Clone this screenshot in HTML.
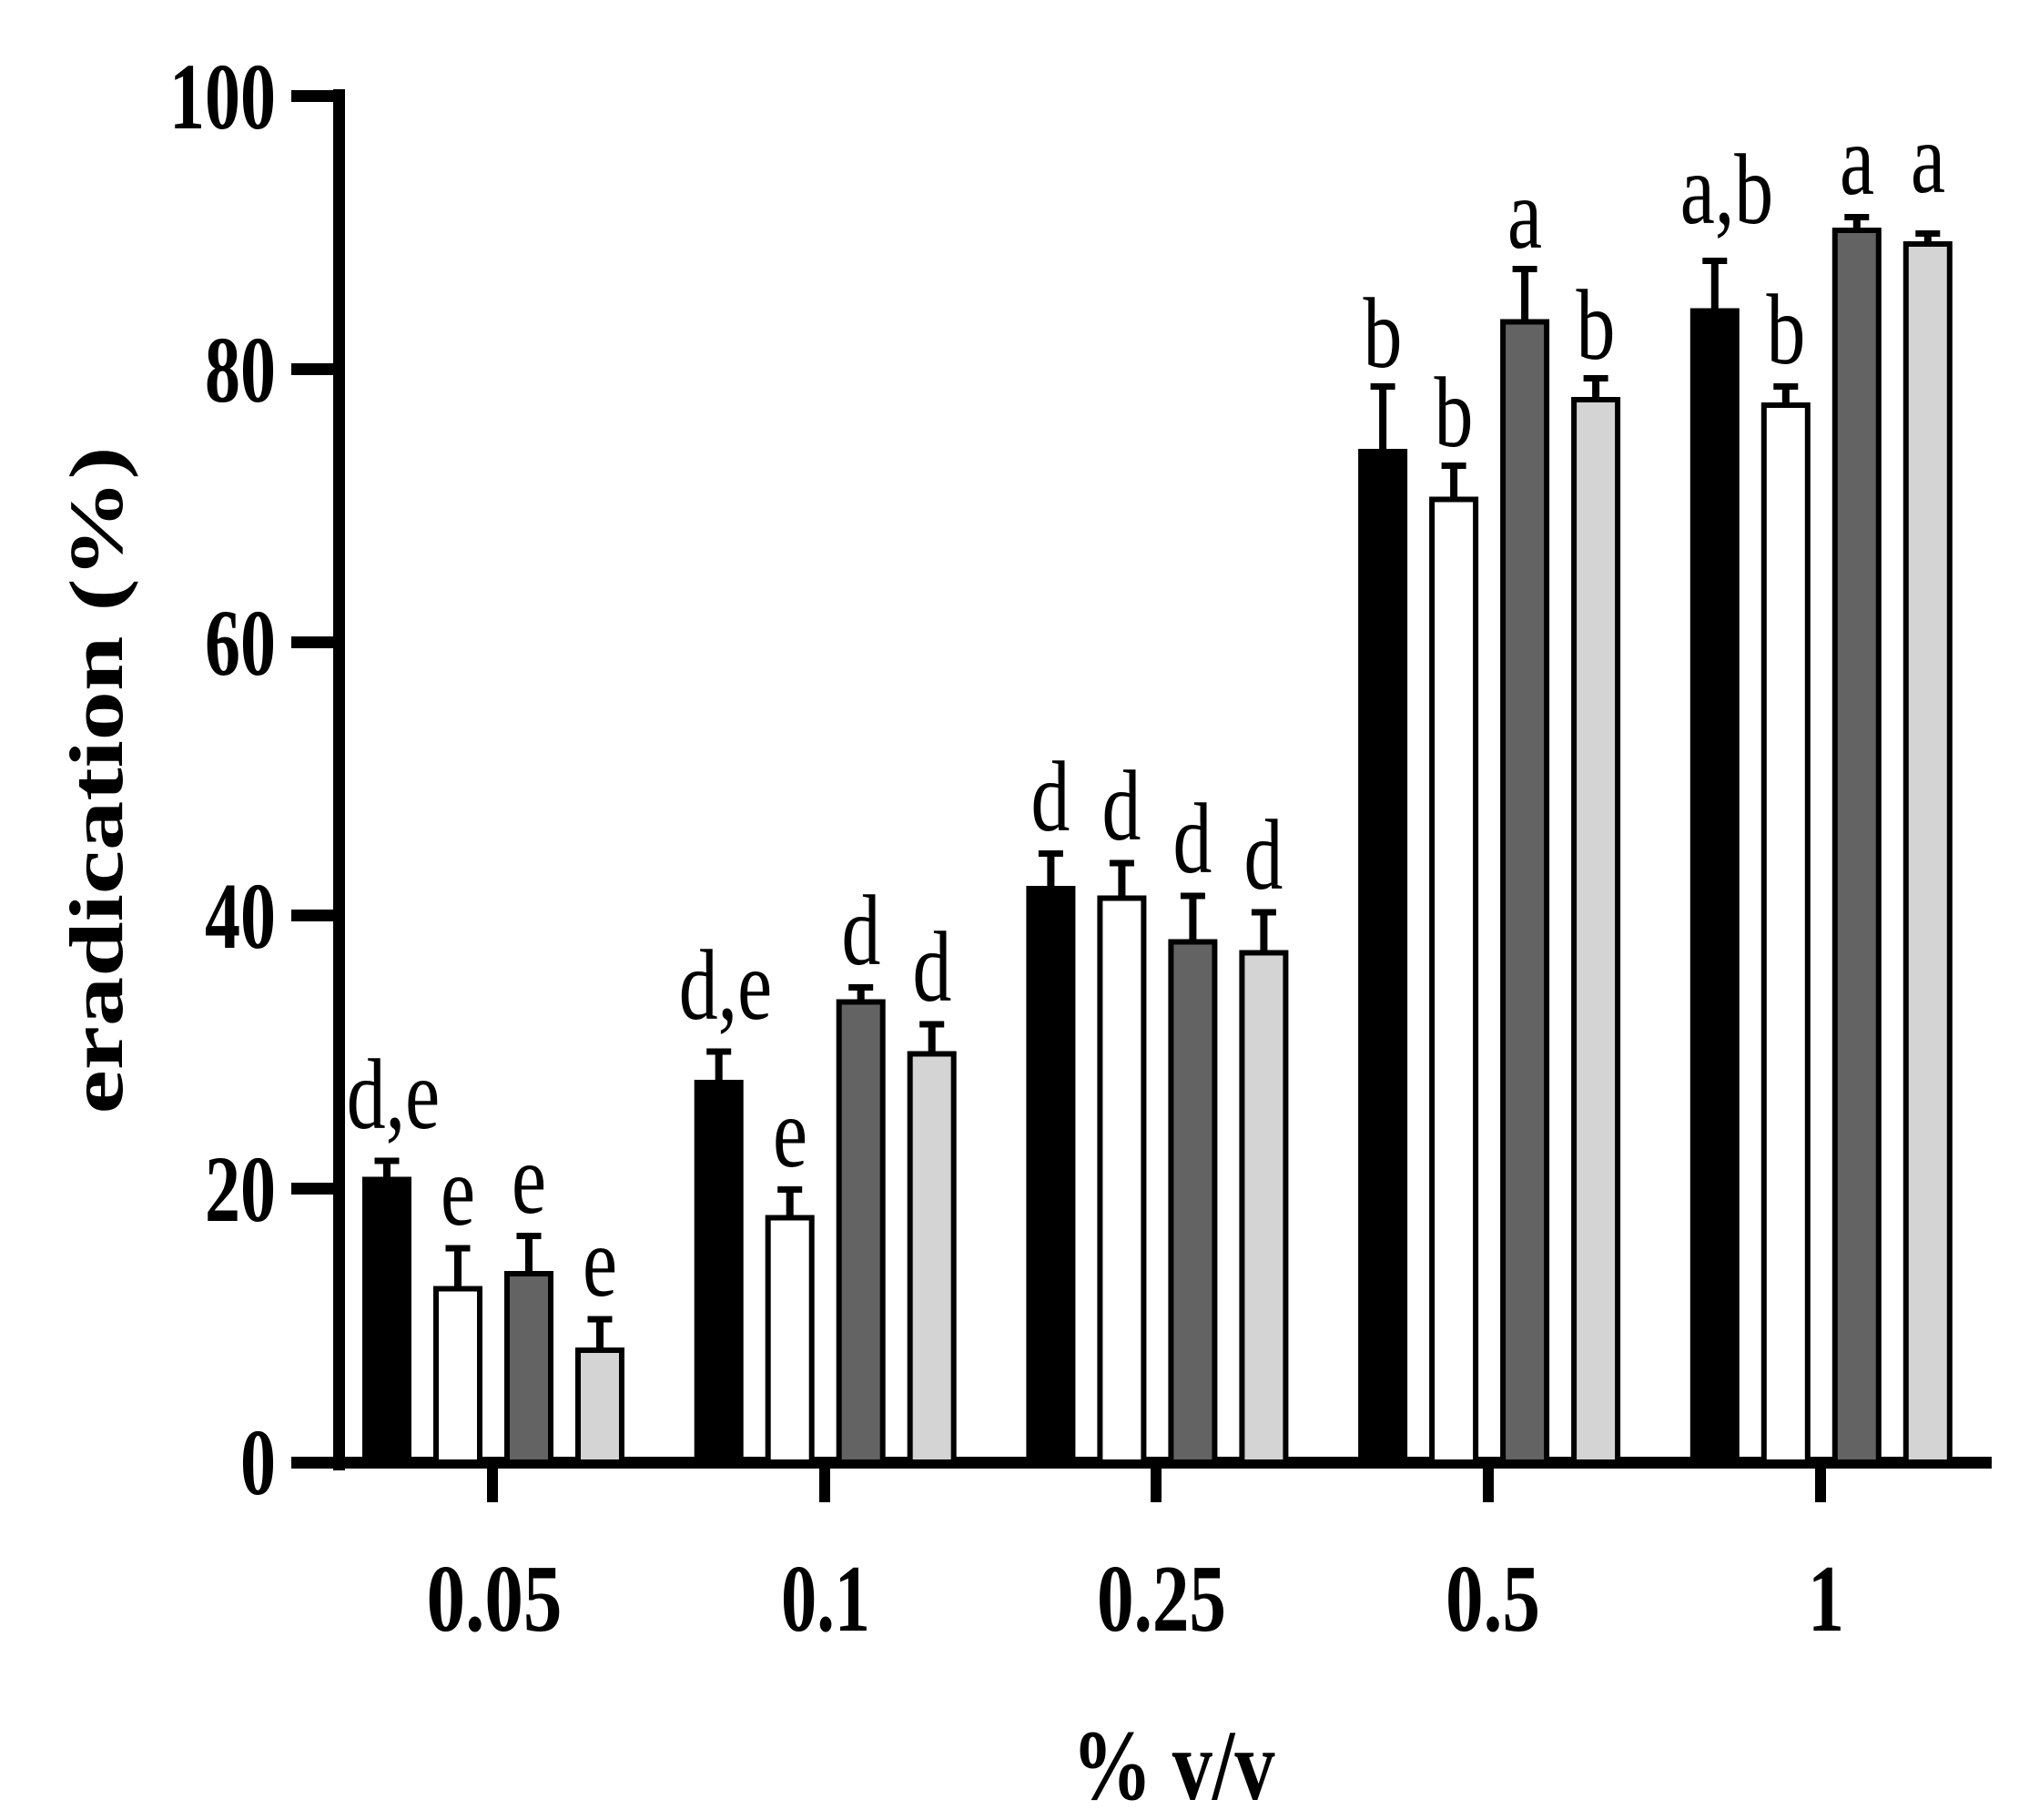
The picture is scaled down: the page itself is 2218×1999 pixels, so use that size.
<!DOCTYPE html>
<html><head><meta charset="utf-8"><style>html,body{margin:0;padding:0;background:#fff}svg{display:block}text{font-family:"Liberation Serif","Times New Roman",serif}</style></head><body>
<svg width="2218" height="1999" viewBox="0 0 2218 1999" xmlns="http://www.w3.org/2000/svg">
<rect width="2218" height="1999" fill="#fff"/>
<g fill="#000">
<rect x="366" y="98" width="13" height="1517"/>
<rect x="320" y="1600" width="1868" height="13"/>
<rect x="320" y="99" width="52" height="13"/>
<rect x="320" y="399" width="52" height="13"/>
<rect x="320" y="699" width="52" height="13"/>
<rect x="320" y="999" width="52" height="13"/>
<rect x="320" y="1299" width="52" height="13"/>
<rect x="535" y="1606" width="12" height="44"/>
<rect x="900" y="1606" width="12" height="44"/>
<rect x="1264" y="1606" width="12" height="44"/>
<rect x="1629" y="1606" width="12" height="44"/>
<rect x="1994" y="1606" width="12" height="44"/>
</g>
<g font-weight="bold" font-size="104" text-anchor="end">
<text x="303" y="141" textLength="117" lengthAdjust="spacingAndGlyphs">100</text>
<text x="303" y="441" textLength="78" lengthAdjust="spacingAndGlyphs">80</text>
<text x="303" y="741" textLength="78" lengthAdjust="spacingAndGlyphs">60</text>
<text x="303" y="1041" textLength="78" lengthAdjust="spacingAndGlyphs">40</text>
<text x="303" y="1341" textLength="78" lengthAdjust="spacingAndGlyphs">20</text>
<text x="303" y="1641" textLength="39" lengthAdjust="spacingAndGlyphs">0</text>
</g>
<g font-weight="bold" font-size="105" text-anchor="middle">
<text x="543" y="1791" textLength="149" lengthAdjust="spacingAndGlyphs">0.05</text>
<text x="907" y="1791" textLength="98" lengthAdjust="spacingAndGlyphs">0.1</text>
<text x="1276" y="1791" textLength="142" lengthAdjust="spacingAndGlyphs">0.25</text>
<text x="1640" y="1791" textLength="104" lengthAdjust="spacingAndGlyphs">0.5</text>
<text x="2006" y="1791" textLength="40" lengthAdjust="spacingAndGlyphs">1</text>
<text x="1289" y="1976" font-size="110" textLength="223" lengthAdjust="spacingAndGlyphs">% v/v</text>
</g>
<text transform="translate(134,857) rotate(-90)" font-weight="bold" font-size="84" text-anchor="middle" textLength="733" lengthAdjust="spacingAndGlyphs">eradication (%)</text>

<g stroke="#000" stroke-width="6">
<rect x="398" y="1292.5" width="54" height="313.5" fill="#000" stroke="none"/>
<rect x="479" y="1415.5" width="48" height="190.5" fill="#fff"/>
<rect x="557" y="1399" width="48" height="207" fill="#636363"/>
<rect x="635" y="1483" width="48" height="123" fill="#d4d4d4"/>
<rect x="762.7" y="1186" width="54" height="420" fill="#000" stroke="none"/>
<rect x="843.7" y="1337.5" width="48" height="268.5" fill="#fff"/>
<rect x="921.7" y="1100.5" width="48" height="505.5" fill="#636363"/>
<rect x="999.7" y="1157.5" width="48" height="448.5" fill="#d4d4d4"/>
<rect x="1127.4" y="973" width="54" height="633" fill="#000" stroke="none"/>
<rect x="1208.4" y="986.5" width="48" height="619.5" fill="#fff"/>
<rect x="1286.4" y="1034.5" width="48" height="571.5" fill="#636363"/>
<rect x="1364.4" y="1046.5" width="48" height="559.5" fill="#d4d4d4"/>
<rect x="1492.1" y="493" width="54" height="1113" fill="#000" stroke="none"/>
<rect x="1573.1" y="548.5" width="48" height="1057.5" fill="#fff"/>
<rect x="1651.1" y="353.5" width="48" height="1252.5" fill="#636363"/>
<rect x="1729.1" y="439" width="48" height="1167" fill="#d4d4d4"/>
<rect x="1856.8" y="338.5" width="54" height="1267.5" fill="#000" stroke="none"/>
<rect x="1937.8" y="445" width="48" height="1161" fill="#fff"/>
<rect x="2015.8" y="253" width="48" height="1353" fill="#636363"/>
<rect x="2093.8" y="268" width="48" height="1338" fill="#d4d4d4"/>
</g>
<g fill="#000">
<rect x="421" y="1271.5" width="8" height="21"/><rect x="411.5" y="1271.5" width="27" height="7"/>
<rect x="499" y="1367.5" width="8" height="45"/><rect x="489.5" y="1367.5" width="27" height="7"/>
<rect x="577" y="1354" width="8" height="42"/><rect x="567.5" y="1354" width="27" height="7"/>
<rect x="655" y="1445.5" width="8" height="35"/><rect x="645.5" y="1445.5" width="27" height="7"/>
<rect x="785.7" y="1151.5" width="8" height="35"/><rect x="776.2" y="1151.5" width="27" height="7"/>
<rect x="863.7" y="1303" width="8" height="32"/><rect x="854.2" y="1303" width="27" height="7"/>
<rect x="941.7" y="1081" width="8" height="17"/><rect x="932.2" y="1081" width="27" height="7"/>
<rect x="1019.7" y="1121.5" width="8" height="33"/><rect x="1010.2" y="1121.5" width="27" height="7"/>
<rect x="1150.4" y="934" width="8" height="39"/><rect x="1140.9" y="934" width="27" height="7"/>
<rect x="1228.4" y="944.5" width="8" height="39"/><rect x="1218.9" y="944.5" width="27" height="7"/>
<rect x="1306.4" y="980.5" width="8" height="51"/><rect x="1296.9" y="980.5" width="27" height="7"/>
<rect x="1384.4" y="998.5" width="8" height="45"/><rect x="1374.9" y="998.5" width="27" height="7"/>
<rect x="1515.1" y="421" width="8" height="72"/><rect x="1505.6" y="421" width="27" height="7"/>
<rect x="1593.1" y="508" width="8" height="38"/><rect x="1583.6" y="508" width="27" height="7"/>
<rect x="1671.1" y="292" width="8" height="59"/><rect x="1661.6" y="292" width="27" height="7"/>
<rect x="1749.1" y="412" width="8" height="24"/><rect x="1739.6" y="412" width="27" height="7"/>
<rect x="1879.8" y="283" width="8" height="56"/><rect x="1870.3" y="283" width="27" height="7"/>
<rect x="1957.8" y="421" width="8" height="21"/><rect x="1948.3" y="421" width="27" height="7"/>
<rect x="2035.8" y="235" width="8" height="15"/><rect x="2026.3" y="235" width="27" height="7"/>
<rect x="2113.8" y="253" width="8" height="12"/><rect x="2104.3" y="253" width="27" height="7"/>
</g>
<g font-size="110" text-anchor="middle">
<text transform="translate(432,1239) scale(0.78,1)">d,e</text>
<text transform="translate(503,1345) scale(0.78,1)">e</text>
<text transform="translate(581,1332) scale(0.78,1)">e</text>
<text transform="translate(659,1423) scale(0.78,1)">e</text>
<text transform="translate(797,1119) scale(0.78,1)">d,e</text>
<text transform="translate(868,1281) scale(0.78,1)">e</text>
<text transform="translate(946,1059) scale(0.78,1)">d</text>
<text transform="translate(1024,1099) scale(0.78,1)">d</text>
<text transform="translate(1154,912) scale(0.78,1)">d</text>
<text transform="translate(1232,922) scale(0.78,1)">d</text>
<text transform="translate(1310,958) scale(0.78,1)">d</text>
<text transform="translate(1388,976) scale(0.78,1)">d</text>
<text transform="translate(1519,403) scale(0.78,1)">b</text>
<text transform="translate(1597,490) scale(0.78,1)">b</text>
<text transform="translate(1675,272) scale(0.78,1)">a</text>
<text transform="translate(1753,394) scale(0.78,1)">b</text>
<text transform="translate(1897,245) scale(0.78,1)">a,b</text>
<text transform="translate(1962,399) scale(0.78,1)">b</text>
<text transform="translate(2040,213) scale(0.78,1)">a</text>
<text transform="translate(2118,211) scale(0.78,1)">a</text>
</g>
</svg>
</body></html>
